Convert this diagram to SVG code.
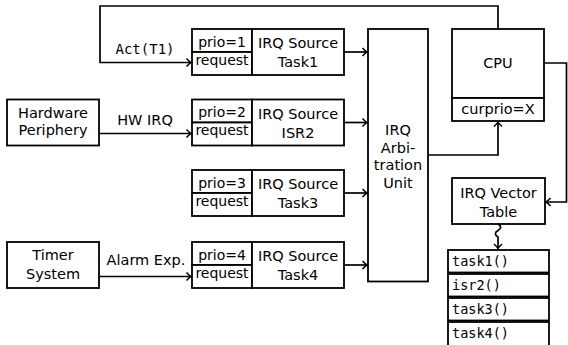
<svg xmlns="http://www.w3.org/2000/svg" width="568" height="345" viewBox="0 0 568 345">
<defs>
<marker id="arr" markerUnits="userSpaceOnUse" markerWidth="12" markerHeight="12" viewBox="-6 -6 12 12" refX="0" refY="0" orient="auto">
<path d="M-4.5,-4 Q-1.5,-0.8 0,0 Q-1.5,0.8 -4.5,4" fill="none" stroke="#000" stroke-width="1.5"/>
</marker>
<style>
rect{fill:#fff;stroke:#000;stroke-width:1.8}
.c{fill:none;stroke:#000;stroke-width:1.7}
text{font-family:"DejaVu Sans","Liberation Sans",sans-serif;font-size:14.5px;fill:#000;text-anchor:middle}
.s{font-size:14px}
.m{font-family:"DejaVu Sans Mono","Liberation Mono",monospace;font-size:13.5px;text-anchor:start}
.a{font-family:"DejaVu Sans Mono","Liberation Mono",monospace;font-size:14px}
</style>
</defs>
<g id="connectors">
<path class="c" d="M498,29 V6 H100 V62.5 H191" marker-end="url(#arr)"/>
<path class="c" d="M99,133.5 H191" marker-end="url(#arr)"/>
<path class="c" d="M99,276.5 H191" marker-end="url(#arr)"/>
<path class="c" d="M344,52 H367" marker-end="url(#arr)"/>
<path class="c" d="M344,122.5 H367" marker-end="url(#arr)"/>
<path class="c" d="M344,193 H367" marker-end="url(#arr)"/>
<path class="c" d="M344,265 H367" marker-end="url(#arr)"/>
<path class="c" d="M428,155 H498 V122" marker-end="url(#arr)"/>
<path class="c" d="M544,63 H566.5 V202 H546" marker-end="url(#arr)"/>
<path class="c" d="M498,224 c3.5,2 3.5,4.5 0,6.5 c-3.5,2 -3.5,4.5 0,6.5 L498,248.5" marker-end="url(#arr)"/>
<text x="145" y="125">HW IRQ</text>
<text x="146" y="265">Alarm Exp.</text>
<text class="a" x="145" y="54">Act(T1)</text>
</g>
<g id="hw">
<rect x="7" y="99.5" width="92" height="46"/>
<text x="53" y="118">Hardware</text>
<text x="53" y="135">Periphery</text>
</g>
<g id="timer">
<rect x="7" y="242" width="92" height="46"/>
<text x="53" y="260">Timer</text>
<text x="53" y="279">System</text>
</g>
<g id="src1">
<rect x="192" y="29" width="60" height="23"/>
<rect x="192" y="52" width="60" height="23"/>
<rect x="252" y="29" width="92" height="46"/>
<text class="s" x="222" y="46.5">prio=1</text>
<text class="s" x="222" y="64.5">request</text>
<text x="298" y="48">IRQ Source</text>
<text x="298" y="67">Task1</text>
</g>
<g id="src2">
<rect x="192" y="99.5" width="60" height="23"/>
<rect x="192" y="122.5" width="60" height="23"/>
<rect x="252" y="99.5" width="92" height="46"/>
<text class="s" x="222" y="117">prio=2</text>
<text class="s" x="222" y="135">request</text>
<text x="298" y="118.5">IRQ Source</text>
<text x="298" y="137.5">ISR2</text>
</g>
<g id="src3">
<rect x="192" y="170" width="60" height="23"/>
<rect x="192" y="193" width="60" height="23"/>
<rect x="252" y="170" width="92" height="46"/>
<text class="s" x="222" y="187.5">prio=3</text>
<text class="s" x="222" y="205.5">request</text>
<text x="298" y="189">IRQ Source</text>
<text x="298" y="208">Task3</text>
</g>
<g id="src4">
<rect x="192" y="242" width="60" height="23"/>
<rect x="192" y="265" width="60" height="23"/>
<rect x="252" y="242" width="92" height="46"/>
<text class="s" x="222" y="259.5">prio=4</text>
<text class="s" x="222" y="277.5">request</text>
<text x="298" y="261">IRQ Source</text>
<text x="298" y="280">Task4</text>
</g>
<g id="arbitration">
<rect x="368" y="29" width="60" height="252.5"/>
<text x="398" y="135">IRQ</text>
<text x="398" y="152.5">Arbi-</text>
<text x="398" y="170">tration</text>
<text x="398" y="187.5">Unit</text>
</g>
<g id="cpu">
<rect x="452" y="29" width="92" height="69"/>
<rect x="452" y="98" width="92" height="23"/>
<text x="498" y="68">CPU</text>
<text x="498" y="114">curprio=X</text>
</g>
<g id="vector">
<rect x="452" y="178" width="93" height="46"/>
<text x="498.5" y="197.5">IRQ Vector</text>
<text x="498.5" y="216.5">Table</text>
</g>
<g id="table">
<rect x="448" y="250" width="101" height="22.5"/>
<rect x="448" y="274" width="101" height="22.5"/>
<rect x="448" y="298" width="101" height="22.5"/>
<rect x="448" y="322" width="101" height="26"/>
<text class="m" x="452" y="266">task1()</text>
<text class="m" x="452" y="290">isr2()</text>
<text class="m" x="452" y="314">task3()</text>
<text class="m" x="452" y="338">task4()</text>
</g>
</svg>
